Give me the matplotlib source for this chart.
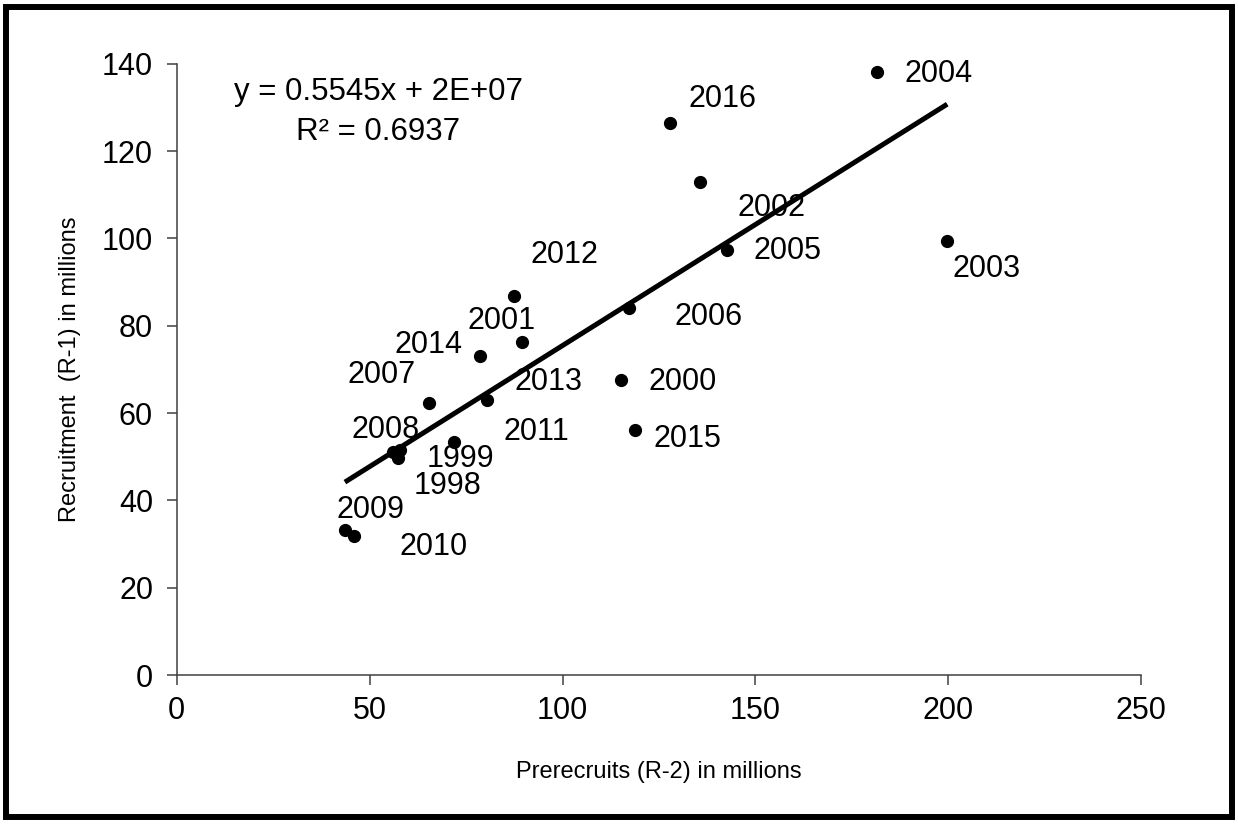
import matplotlib
matplotlib.use("Agg")
import matplotlib.pyplot as plt
from matplotlib.patches import Rectangle
import numpy as np

plt.rcParams['font.family'] = ['Liberation Sans', 'DejaVu Sans']

# prerecruits (R-2) and recruitment (R-1), millions
years = [1998, 1999, 2000, 2001, 2002, 2003, 2004, 2005, 2006, 2007,
         2008, 2009, 2010, 2011, 2012, 2013, 2014, 2015, 2016]
prerecruits = [57.4, 71.9, 115.2, 89.4, 135.6, 199.7, 181.4, 142.6, 117.1, 65.4,
               56.1, 43.6, 46.0, 57.9, 87.5, 80.4, 78.6, 118.8, 127.9]
recruitment = [49.6, 53.4, 67.6, 76.2, 112.8, 99.4, 138.0, 97.3, 84.1, 62.2,
               51.1, 33.2, 31.8, 51.5, 86.9, 63.0, 73.1, 56.1, 126.4]

# linear trend as reported: y = 0.5545x + 2E+07 (in units, i.e. 20 million)
slope = 0.5545
intercept = 2e7 / 1e6
r2 = 0.6937

# where each year label sits relative to its point (pixels)
label_offsets = {
    1998: (15, -26), 1999: (-27, -15), 2000: (27, 0), 2001: (-54, 23),
    2002: (38, -24), 2003: (5, -26), 2004: (28, 0), 2005: (27, 1),
    2006: (46, -7), 2007: (-82, 30), 2008: (-42, 24), 2009: (-8, 22),
    2010: (45, -9), 2011: (103, 20), 2012: (16, 43), 2013: (28, 20),
    2014: (-85, 13), 2015: (18, -7), 2016: (18, 26),
}

fig = plt.figure(figsize=(12.38, 8.24), dpi=100)
ax = fig.add_axes([0.1427, 0.1808, 0.7792, 0.7419])

x = np.array(prerecruits)
y = np.array(recruitment)
ax.plot(x, y, 'o', color='black', markersize=8.5, zorder=3)

xs = np.array([x.min(), x.max()])
ax.plot(xs, slope * xs + intercept, color='black', lw=3.6, zorder=2,
        solid_capstyle='butt')

for yr, px, py in zip(years, prerecruits, recruitment):
    dx, dy = label_offsets[yr]
    ax.annotate(str(yr), (px, py), xytext=(dx, dy - 2), textcoords='offset pixels',
                ha='left', va='center', fontsize=22, color='black')

ax.text(52.2, 133.5, 'y = 0.5545x + 2E+07', ha='center', va='center', fontsize=22.5)
ax.text(52.2, 124.3, 'R² = %.4f' % r2, ha='center', va='center', fontsize=22.5)

ax.set_xlim(0, 250)
ax.set_ylim(0, 140)
ax.set_xticks(np.arange(0, 251, 50))
ax.set_yticks(np.arange(0, 141, 20))
ax.tick_params(axis='both', direction='out', length=7, width=1.1,
               colors='#404040', labelcolor='black', labelsize=22)
ax.tick_params(axis='y', pad=10)
ax.tick_params(axis='x', pad=8)

for side in ['top', 'right']:
    ax.spines[side].set_visible(False)
for side in ['left', 'bottom']:
    ax.spines[side].set_color('#404040')
    ax.spines[side].set_linewidth(1.1)

ax.set_xlabel('Prerecruits (R-2) in millions', fontsize=17, labelpad=25)
ax.set_ylabel('Recruitment  (R-1) in millions', fontsize=17, labelpad=15)

# heavy frame round the whole figure
fig.patches.append(Rectangle((0.005, 0.008), 0.99, 0.984, transform=fig.transFigure,
                             fill=False, edgecolor='black', lw=4.3))

fig.savefig('out.png', dpi=100, facecolor='white')
